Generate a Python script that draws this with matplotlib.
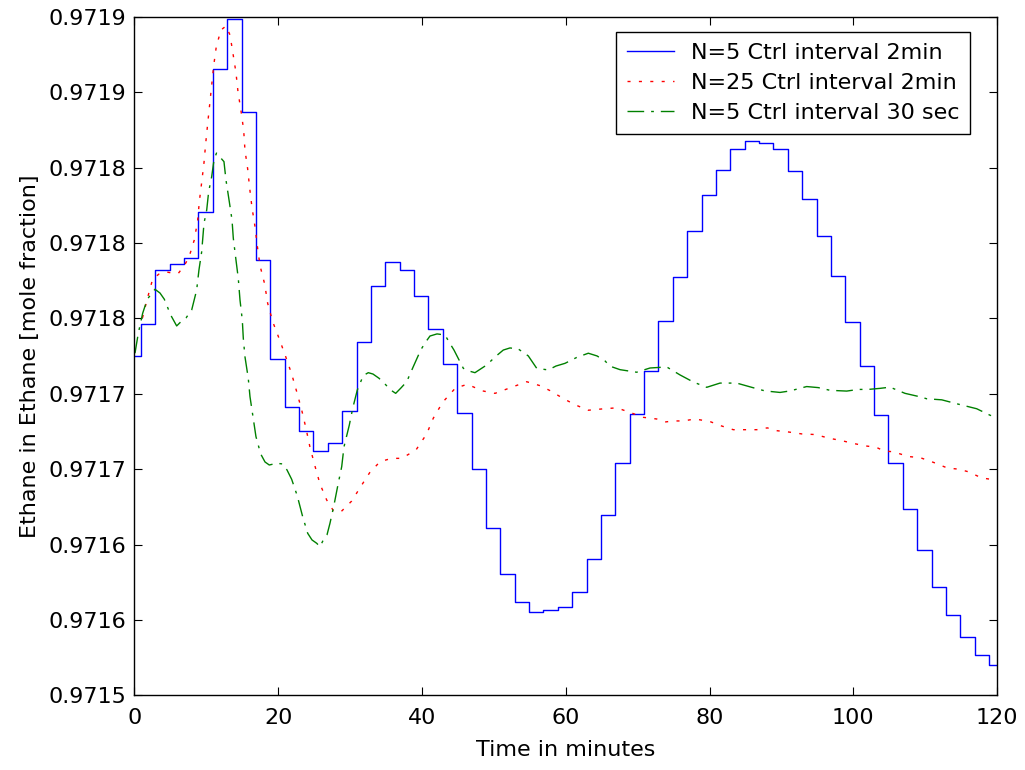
#Ethane purity at the column top for three controller settings

#imports
import matplotlib
matplotlib.use("Agg")
import matplotlib.pyplot as plt
import numpy as np

plt.rcParams['font.family'] = ['DejaVu Sans']

#N=5, ctrl interval 2 min: one held value per control move
#moves happen at 0.9, 2.9, ... 118.9 min
ctrlInterval = 2.0
firstMove = 0.9
tEnd = 120.0
n5Levels = [0.9717253, 0.9717465, 0.9717821, 0.9717861, 0.9717900, 0.9718205, 0.9719151,
            0.9719483, 0.9718866, 0.9717887, 0.9717231, 0.9716913, 0.9716753, 0.9716621,
            0.9716674, 0.9716884, 0.9717345, 0.9717717, 0.9717874, 0.9717821, 0.9717650,
            0.9717428, 0.9717200, 0.9716873, 0.9716502, 0.9716108, 0.9715805, 0.9715622,
            0.9715554, 0.9715567, 0.9715587, 0.9715689, 0.9715907, 0.9716197, 0.9716543,
            0.9716867, 0.9717153, 0.9717482, 0.9717776, 0.9718081, 0.9718321, 0.9718487,
            0.9718623, 0.9718677, 0.9718663, 0.9718623, 0.9718478, 0.9718293, 0.9718043,
            0.9717778, 0.9717474, 0.9717181, 0.9716862, 0.9716543, 0.9716238, 0.9715962,
            0.9715719, 0.9715534, 0.9715388, 0.9715268, 0.9715202]

#N=25, ctrl interval 2 min
n25Time = [1.11, 1.81, 2.53, 3.41, 4.38, 5.22, 6.09, 6.89, 7.58, 8.32, 8.79, 9.02, 9.35, 9.67,
           9.91, 10.18, 10.46, 10.74, 11.02, 11.38, 12.03, 12.73, 13.29, 13.70, 14.12, 14.40,
           14.82, 15.19, 15.37, 15.75, 16.03, 16.35, 16.77, 17.09, 17.46, 18.12, 18.53, 19.23,
           20.15, 21.04, 21.87, 22.57, 23.26, 23.86, 24.42, 25.11, 25.81, 26.74, 27.66, 28.73,
           30.22, 31.44, 32.72, 34.16, 35.78, 37.18, 39.17, 40.65, 41.57, 42.88, 44.63, 46.30,
           48.45, 50.16, 52.34, 54.57, 56.42, 57.81, 59.76, 61.36, 63.14, 65.14, 67.09, 68.80,
           70.79, 72.65, 73.81, 74.96, 76.36, 77.98, 80.07, 81.46, 83.31, 84.84, 86.57, 88.04,
           89.43, 90.96, 92.83, 94.68, 96.77, 98.16, 100.01, 101.77, 103.17, 104.32, 105.57,
           107.66, 109.29, 111.23, 113.09, 114.71, 116.01, 117.87, 119.72]
n25Ethane = [0.9717503, 0.9717635, 0.9717761, 0.9717794, 0.9717808, 0.9717801, 0.9717798,
             0.9717847, 0.9717905, 0.9718020, 0.9718148, 0.9718274, 0.9718402, 0.9718532,
             0.9718661, 0.9718789, 0.9718917, 0.9719045, 0.9719175, 0.9719301, 0.9719412,
             0.9719438, 0.9719379, 0.9719257, 0.9719129, 0.9719003, 0.9718875, 0.9718749,
             0.9718616, 0.9718490, 0.9718362, 0.9718234, 0.9718108, 0.9717980, 0.9717851,
             0.9717726, 0.9717600, 0.9717478, 0.9717363, 0.9717246, 0.9717131, 0.9717014,
             0.9716893, 0.9716771, 0.9716645, 0.9716521, 0.9716402, 0.9716296, 0.9716226,
             0.9716218, 0.9716289, 0.9716382, 0.9716477, 0.9716550, 0.9716572, 0.9716572,
             0.9716628, 0.9716734, 0.9716838, 0.9716944, 0.9717037, 0.9717063, 0.9717019,
             0.9717003, 0.9717041, 0.9717080, 0.9717054, 0.9717021, 0.9716966, 0.9716926,
             0.9716891, 0.9716900, 0.9716907, 0.9716879, 0.9716844, 0.9716833, 0.9716813,
             0.9716820, 0.9716820, 0.9716833, 0.9716816, 0.9716790, 0.9716762, 0.9716762,
             0.9716762, 0.9716774, 0.9716755, 0.9716747, 0.9716734, 0.9716730, 0.9716704,
             0.9716692, 0.9716671, 0.9716654, 0.9716646, 0.9716620, 0.9716616, 0.9716584,
             0.9716577, 0.9716544, 0.9716508, 0.9716500, 0.9716483, 0.9716442, 0.9716429]

#N=5, ctrl interval 30 sec
n5fTime = [0.07, 0.53, 1.14, 1.78, 2.85, 3.55, 4.15, 5.04, 5.87, 6.57, 7.17, 7.96, 8.65, 8.97,
           9.35, 9.67, 10.05, 10.32, 10.74, 11.06, 11.41, 12.45, 12.73, 13.19, 13.57, 13.75,
           14.12, 14.44, 14.68, 15.00, 15.14, 15.37, 15.83, 16.07, 16.45, 16.90, 17.56, 18.16,
           18.75, 19.78, 20.62, 21.22, 21.87, 22.65, 23.40, 24.10, 24.70, 25.35, 25.81, 26.27,
           26.78, 27.20, 27.76, 28.35, 28.83, 29.15, 29.89, 30.36, 31.00, 31.83, 32.53, 33.18,
           34.02, 34.85, 35.65, 36.34, 37.08, 37.87, 38.79, 39.82, 40.42, 41.11, 42.09, 43.20,
           43.76, 44.45, 45.75, 46.54, 47.37, 49.00, 50.16, 51.31, 52.24, 53.40, 54.79, 55.96,
           57.57, 58.64, 59.90, 61.52, 63.14, 64.35, 65.46, 66.16, 67.55, 69.87, 71.72, 74.05,
           75.90, 77.75, 79.61, 81.46, 83.78, 85.87, 87.72, 89.81, 91.20, 93.52, 95.14, 96.77,
           99.09, 100.70, 102.09, 103.72, 105.11, 107.20, 109.29, 110.22, 112.31, 114.39,
           117.17, 119.03, 119.72]
n5fEthane = [0.9717269, 0.9717401, 0.9717534, 0.9717627, 0.9717693, 0.9717668, 0.9717627,
             0.9717522, 0.9717450, 0.9717483, 0.9717503, 0.9717556, 0.9717688, 0.9717821,
             0.9717942, 0.9718130, 0.9718219, 0.9718340, 0.9718439, 0.9718550, 0.9718596,
             0.9718539, 0.9718417, 0.9718274, 0.9718152, 0.9718031, 0.9717887, 0.9717766,
             0.9717622, 0.9717489, 0.9717368, 0.9717246, 0.9717103, 0.9716981, 0.9716860,
             0.9716716, 0.9716601, 0.9716548, 0.9716528, 0.9716539, 0.9716535, 0.9716495,
             0.9716433, 0.9716323, 0.9716185, 0.9716075, 0.9716031, 0.9716009, 0.9715986,
             0.9716031, 0.9716064, 0.9716142, 0.9716263, 0.9716407, 0.9716517, 0.9716649,
             0.9716793, 0.9716904, 0.9717025, 0.9717121, 0.9717140, 0.9717131, 0.9717103,
             0.9717065, 0.9717025, 0.9717003, 0.9717039, 0.9717080, 0.9717180, 0.9717290,
             0.9717337, 0.9717383, 0.9717397, 0.9717390, 0.9717344, 0.9717290, 0.9717169,
             0.9717151, 0.9717140, 0.9717191, 0.9717244, 0.9717290, 0.9717304, 0.9717297,
             0.9717251, 0.9717169, 0.9717158, 0.9717184, 0.9717202, 0.9717241, 0.9717269,
             0.9717251, 0.9717218, 0.9717183, 0.9717160, 0.9717143, 0.9717171, 0.9717178,
             0.9717125, 0.9717078, 0.9717043, 0.9717071, 0.9717071, 0.9717043, 0.9717019,
             0.9717009, 0.9717019, 0.9717048, 0.9717041, 0.9717023, 0.9717018, 0.9717029,
             0.9717029, 0.9717036, 0.9717044, 0.9717003, 0.9716980, 0.9716967, 0.9716960,
             0.9716934, 0.9716901, 0.9716858, 0.9716845]

xTicks = [0, 20, 40, 60, 80, 100, 120]
yTicks = [0.97150, 0.97155, 0.97160, 0.97165, 0.97170, 0.97175, 0.97180, 0.97185, 0.97190, 0.97195]
yTickLabels = ['0.9715', '0.9716', '0.9716', '0.9717', '0.9717',
               '0.9718', '0.9718', '0.9718', '0.9719', '0.9719']
labels = ['N=5 Ctrl interval 2min', 'N=25 Ctrl interval 2min', 'N=5 Ctrl interval 30 sec']

#stairs: each level holds from one control move to the next
moves = np.arange(firstMove, tEnd, ctrlInterval)
n5Time = np.concatenate(([0.0], moves, [tEnd]))
n5Stairs = np.append(n5Levels, n5Levels[-1])

fs = 16

fig = plt.figure(figsize=(10.25, 7.7), dpi=100)
ax = fig.add_axes([0.1312, 0.0968, 0.8415, 0.8815])

ax.plot(n5Time, n5Stairs, drawstyle='steps-post', color='#0000ff', lw=1.0, label=labels[0])
ax.plot(n25Time, n25Ethane, color='#ff0000', lw=1.0, linestyle=(0, (2.2, 6.0)), label=labels[1])
ax.plot(n5fTime, n5fEthane, color='#008000', lw=1.0, linestyle=(0, (12, 5, 2, 5)), label=labels[2])

ax.set_xlim(0, 120)
ax.set_ylim(yTicks[0], yTicks[-1])
ax.set_xticks(xTicks)
ax.set_yticks(yTicks)
ax.set_yticklabels(yTickLabels)
ax.tick_params(direction='in', length=6, width=0.8, labelsize=fs, top=True, right=True)
ax.tick_params(axis='y', pad=6)
ax.tick_params(axis='x', pad=9)
for s in ax.spines.values():
    s.set_linewidth(1.0)

ax.set_xlabel('Time in minutes', fontsize=fs, labelpad=9)
ax.set_ylabel('Ethane in Ethane [mole fraction]', fontsize=fs, labelpad=6)

leg = ax.legend(loc='upper right', bbox_to_anchor=(0.969, 0.978), fontsize=fs, fancybox=False,
                framealpha=1, edgecolor='black', handlelength=2.1, handletextpad=0.75,
                labelspacing=0.45, borderpad=0.5, borderaxespad=0)
leg.get_frame().set_linewidth(1.0)

fig.savefig('out.png', dpi=100)
